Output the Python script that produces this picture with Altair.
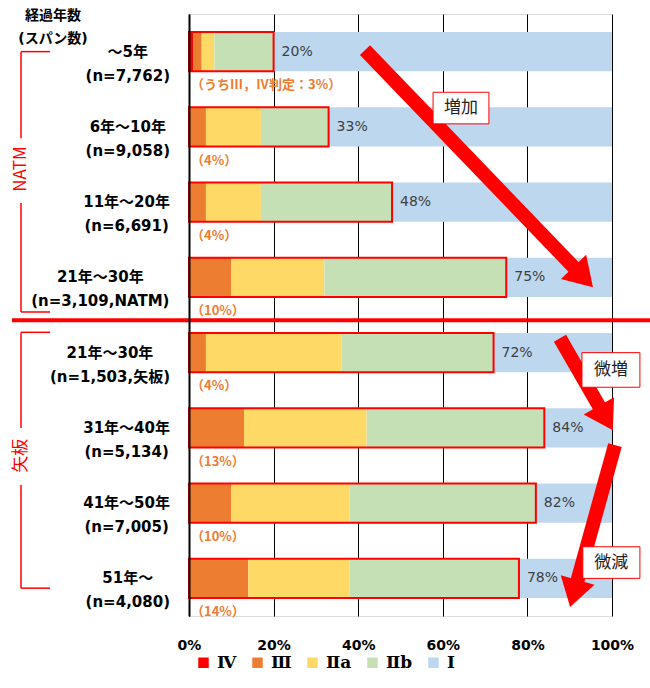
import math
import altair as alt
import pandas as pd

# ---- data -------------------------------------------------------------
span_line1 = ["～5年", "6年～10年", "11年～20年", "21年～30年",
              "21年～30年", "31年～40年", "41年～50年", "51年～"]
span_line2 = ["(n=7,762)", "(n=9,058)", "(n=6,691)", "(n=3,109,NATM)",
              "(n=1,503,矢板)", "(n=5,134)", "(n=7,005)", "(n=4,080)"]
grade_iv = [1, 0, 0, 0, 0, 0, 0, 0]
grade_iii = [2, 4, 4, 10, 4, 13, 10, 14]
grade_iia = [3, 13, 13, 22, 32, 29, 28, 24]
grade_iib = [14, 16, 31, 43, 36, 42, 44, 40]
grade_i = [80, 67, 52, 25, 28, 16, 18, 22]
grades = ["Ⅳ", "Ⅲ", "Ⅱa", "Ⅱb", "Ⅰ"]
grade_colors = ["#FF0000", "#ED7D31", "#FFD966", "#C5E0B4", "#BDD7EE"]
x_ticks = [0, 20, 40, 60, 80, 100]
first_note = "（うちⅢ，Ⅳ判定：3%）"
header_words = ["経過年数", "(スパン数)"]
groups = ["NATM", "矢板"]
trend_words = ["増加", "微増", "微減"]

# ---- layout -----------------------------------------------------------
W, H = 423, 602
N = len(span_line1)
PX_X = W / 100.0          # pixels per percent
PX_Y = H / N              # pixels per row
HALF = 0.26               # half bar thickness in rows
RED = "#FF0000"
JP = "Noto Sans CJK JP"
LAT = "DejaVu Sans, Noto Sans CJK JP"

x_scale = alt.Scale(domain=[0, 100], nice=False, zero=False)
y_scale = alt.Scale(domain=[-0.5, N - 0.5], nice=False, zero=False, reverse=True)
x_axis = alt.Axis(values=x_ticks, labelExpr="datum.value + '%'", grid=True,
                  gridColor="black", gridWidth=1, gridOpacity=1, domain=False,
                  ticks=False, labelFont="DejaVu Sans", labelFontWeight="bold",
                  labelFontSize=14, labelColor="black", labelPadding=22,
                  labelFlush=False, labelOverlap=False, title=None)
y_axis = alt.Axis(domain=True, domainColor="black", domainWidth=2, labels=False,
                  ticks=False, grid=False, title=None, zindex=1)


def X(field):
    return alt.X(field, type="quantitative", scale=x_scale, axis=x_axis, title=None)


def Y(field):
    return alt.Y(field, type="quantitative", scale=y_scale, axis=y_axis, title=None)


# ---- tables -----------------------------------------------------------
rows = pd.DataFrame({
    "row": list(range(N)), "l1": span_line1, "l2": span_line2,
    "iv": grade_iv, "iii": grade_iii, "iia": grade_iia,
    "iib": grade_iib, "i": grade_i,
})
rows["zero"] = 0
rows["damaged"] = rows[["iv", "iii", "iia", "iib"]].sum(axis=1)
rows["severe"] = rows["iv"] + rows["iii"]
rows["y0"] = rows["row"] - HALF
rows["y1"] = rows["row"] + HALF
rows["val_text"] = rows["damaged"].astype(str) + "%"
rows["note"] = ["（%d%%）" % s for s in rows["severe"]]
rows.loc[0, "note"] = first_note
rows["note_y"] = rows["row"] + 0.45
rows["label"] = rows["l1"] + "\n" + rows["l2"]

seg_rows = []
for _, r in rows.iterrows():
    start = 0
    for g, v in zip(grades, [r["iv"], r["iii"], r["iia"], r["iib"], r["i"]]):
        seg_rows.append({"row": int(r["row"]), "grade": g, "x0": int(start),
                         "x1": int(start + v), "y0": float(r["y0"]),
                         "y1": float(r["y1"])})
        start += v
segs = pd.DataFrame(seg_rows)


def text_w(s, fs):
    narrow = {"(": .457, ")": .457, ",": .38, "=": .838, "n": .712,
              "N": .837, "A": .774, "T": .682, "M": .995}
    w = 0.0
    for ch in s:
        if ord(ch) >= 0x2E80 or ch in "～（）":
            w += fs
        elif ch.isdigit():
            w += .696 * fs
        else:
            w += narrow.get(ch, .78) * fs
    return w


LAB_FS = 15
rows["lab_x"] = [(-19 - max(text_w(a, LAB_FS), text_w(b, LAB_FS)) / 2) / PX_X
                 for a, b in zip(rows["l1"], rows["l2"])]

# ---- bars --------------------------------------------------------------
bars = alt.Chart(segs).mark_rect().encode(
    x=X("x0"), x2="x1", y=Y("y0"), y2="y1",
    color=alt.Color("grade:N", scale=alt.Scale(domain=grades, range=grade_colors),
                    legend=alt.Legend(orient="none", legendX=6, legendY=640,
                                      direction="horizontal", title=None,
                                      symbolType="square", symbolSize=110,
                                      symbolStrokeWidth=0, labelFont="DejaVu Serif",
                                      labelFontWeight="bold", labelFontSize=17,
                                      labelColor="black", columnPadding=12,
                                      labelOffset=5)),
)

outline = alt.Chart(rows).mark_rect(fillOpacity=0, stroke=RED, strokeWidth=2).encode(
    x=X("zero"), x2="damaged", y=Y("y0"), y2="y1",
)

values = alt.Chart(rows).mark_text(align="left", baseline="middle", dx=8,
                                   font="DejaVu Sans", fontSize=14,
                                   color="#404040").encode(
    x=X("damaged"), y=Y("row"), text="val_text",
)

notes = alt.Chart(rows).mark_text(align="left", baseline="middle", dx=2,
                                  font=JP, fontWeight="bold", fontSize=13,
                                  color="#ED7D31").encode(
    x=X("zero"), y=Y("note_y"), text="note",
)

labels = alt.Chart(rows).mark_text(align="center", baseline="middle", lineBreak="\n",
                                   lineHeight=24, font=LAT, fontWeight="bold",
                                   fontSize=LAB_FS, color="black").encode(
    x=X("lab_x"), y=Y("row"), text="label",
)

header_tbl = pd.DataFrame({"t": header_words, "ya": [-0.47, -0.165]})
header = alt.Chart(header_tbl).mark_text(
    align="center", baseline="middle", font=LAT, fontWeight="bold",
    fontSize=14, color="black").encode(
    x=alt.value(-136), y=Y("ya"), text="t",
)

# ---- group brackets ----------------------------------------------------
BX, BX2 = -168, -139
vert = pd.DataFrame({"ya": [0.0, 2.01, 3.73, 5.76], "yb": [1.15, 3.46, 5.0, 7.13]})
arms = pd.DataFrame({"ya": [0.0, 3.46, 3.73, 7.13]})
group_txt = pd.DataFrame({"t": groups, "ya": [1.56, 5.37]})

br_v = alt.Chart(vert).mark_rule(color=RED, strokeWidth=1.5).encode(
    x=alt.value(BX), y=Y("ya"), y2="yb")
br_h = alt.Chart(arms).mark_rule(color=RED, strokeWidth=1.5).encode(
    x=alt.value(BX), x2=alt.value(BX2), y=Y("ya"))
br_t = alt.Chart(group_txt).mark_text(angle=270, align="center", baseline="middle",
                                      font=JP, fontSize=17, color=RED).encode(
    x=alt.value(BX), y=Y("ya"), text="t")

separator = alt.Chart(pd.DataFrame({"ya": [3.57]})).mark_rule(
    color=RED, strokeWidth=4).encode(
    x=alt.value(-177), x2=alt.value(650 - 189), y=Y("ya"))

# ---- trend arrows ------------------------------------------------------
arrows = pd.DataFrame({
    "tx": [41.6, 87.7, 100.7], "ty": [-0.02, 3.81, 5.23],
    "hx": [95.5, 100.2, 90.1], "hy": [3.13, 5.03, 7.38],
})
HEAD = 28
ex, ey, cx, cy, ang = [], [], [], [], []
for _, a in arrows.iterrows():
    dxp = (a["hx"] - a["tx"]) * PX_X
    dyp = (a["hy"] - a["ty"]) * PX_Y
    L = math.hypot(dxp, dyp)
    ux, uy = dxp / L, dyp / L
    ex.append(a["hx"] - (HEAD - 4) * ux / PX_X)
    ey.append(a["hy"] - (HEAD - 4) * uy / PX_Y)
    cx.append(a["hx"] - HEAD / 2 * ux / PX_X)
    cy.append(a["hy"] - HEAD / 2 * uy / PX_Y)
    ang.append(math.degrees(math.atan2(ux, -uy)) % 360)
arrows["ex"], arrows["ey"] = ex, ey
arrows["cx"], arrows["cy"], arrows["ang"] = cx, cy, ang

shafts = alt.Chart(arrows).mark_rule(color=RED, strokeWidth=14, strokeCap="butt").encode(
    x=X("tx"), y=Y("ty"), x2="ex", y2="ey")
heads = alt.Chart(arrows).mark_point(shape="M0,-1L1.25,1L-1.25,1Z", filled=True,
                                     color=RED, opacity=1, size=HEAD ** 2,
                                     strokeWidth=0).encode(
    x=X("cx"), y=Y("cy"), angle=alt.Angle("ang:Q", scale=None))

boxes = pd.DataFrame({
    "t": trend_words,
    "bx0": [57.7, 92.9, 93.1], "bx1": [70.9, 106.6, 106.6],
    "by0": [0.54, 4.0, 6.58], "by1": [0.96, 4.46, 7.0],
})
boxes["mx"] = (boxes["bx0"] + boxes["bx1"]) / 2
boxes["my"] = (boxes["by0"] + boxes["by1"]) / 2
box_rect = alt.Chart(boxes).mark_rect(fill="white", stroke=RED, strokeWidth=1).encode(
    x=X("bx0"), x2="bx1", y=Y("by0"), y2="by1")
box_text = alt.Chart(boxes).mark_text(align="center", baseline="middle", font=JP,
                                      fontSize=17, color="#222222").encode(
    x=X("mx"), y=Y("my"), text="t")

chart = alt.layer(
    bars, outline, values, notes, labels, header,
    br_v, br_h, br_t, separator, shafts, heads, box_rect, box_text,
).properties(
    width=W, height=H,
    autosize=alt.AutoSizeParams(type="none"),
    padding={"left": 189, "top": 14, "right": 650 - 189 - W, "bottom": 688 - 14 - H},
).configure_view(stroke=None).configure(background="white")

chart.save("out.html", embed_options={"renderer": "svg", "actions": False})
